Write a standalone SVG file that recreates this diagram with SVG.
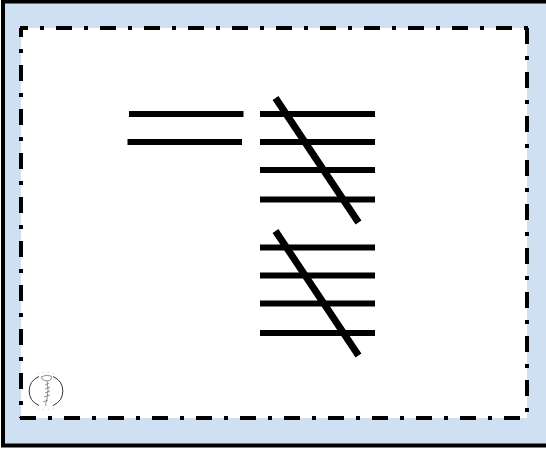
<svg xmlns="http://www.w3.org/2000/svg" width="546" height="450" viewBox="0 0 546 450">
<style>
.b{stroke:#000;fill:none}
.d{stroke-width:4;stroke-dasharray:16 12 4 12}
.l{stroke-width:6}
.g{stroke-width:7}
.s{fill:none;stroke:#666;stroke-width:.7}
</style>
<rect width="546" height="450" fill="#fff"/>
<path d="M3 1.500H546V445.500H3Z" fill="#cfe0f3"/>
<path class="b" d="M546 1.500H3V445.500H546" stroke-width="4"/>
<rect x="21" y="28" width="506" height="390" fill="#fff"/>
<g id="frame">
<path class="b d" stroke-dashoffset="8" d="M20 28H528"/>
<path class="b d" d="M527 28V418"/>
<path class="b d" d="M20 418H528"/>
<path class="b d" stroke-dashoffset="7" d="M21 28V418"/>
</g>
<g id="connectors">
<path class="b l" d="M129 114H243.500M127.500 142H242"/>
<path class="b l" d="M260 114H375M260 142H375M260 170H375M260 199.500H375"/>
<path class="b g" d="M275.500 98L358.500 222.500"/>
<path class="b l" d="M260 247.500H375M260 275.500H375M260 303.500H375M260 333H375"/>
<path class="b g" d="M275.500 231L358.500 355.500"/>
</g>
<g id="stamp">
<path class="s" style="stroke:#333;stroke-width:1" d="M39 376.500A17 16 0 0 0 39 405.500M53 376.500A17 16 0 0 1 53 405.500"/>
<path class="s" d="M41 377Q46 374 51 376Q53 380 47 381Q42 381 41 377M47 381Q49 389 47 399Q45 404 46 406M44 397L50 395M43 402L48 400M45 389L50 387M45 393L50 391M45 385L49 383"/>
<path class="s" stroke-dasharray="1 4" style="stroke:#aaa" d="M38 374A19 18 0 0 1 54 374M38 408A19 18 0 0 0 54 408"/>
</g>
</svg>
